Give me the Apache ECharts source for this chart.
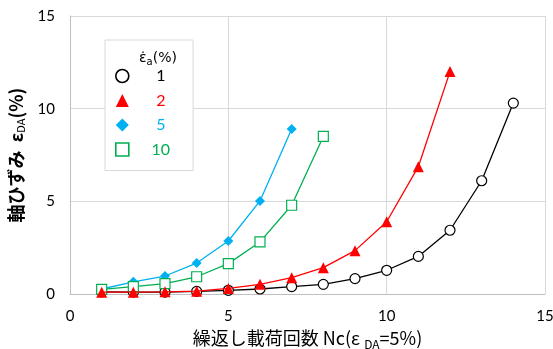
<!DOCTYPE html>
<html>
<head>
<meta charset="utf-8">
<script src="https://cdn.jsdelivr.net/npm/echarts@6/dist/echarts.min.js"></script>
<style>
  html, body { margin: 0; padding: 0; background: #fff; }
  #chart { width: 553px; height: 349px; }
</style>
</head>
<body>
<div id="chart"></div>
<script>
// Number of loading cycles (x) and axial strain ε_DA (%) for each strain rate
const cycles1 = [1, 2, 3, 4, 5, 6, 7, 8, 9, 10, 11, 12, 13, 14];
const strain1 = [0.12, 0.1, 0.1, 0.14, 0.2, 0.27, 0.4, 0.52, 0.83, 1.28, 2.03, 3.44, 6.11, 10.3];

const cycles2 = [1, 2, 3, 4, 5, 6, 7, 8, 9, 10, 11, 12];
const strain2 = [0.1, 0.1, 0.12, 0.15, 0.3, 0.52, 0.88, 1.42, 2.34, 3.9, 6.87, 12.0];

const cycles5 = [1, 2, 3, 4, 5, 6, 7];
const strain5 = [0.27, 0.66, 0.97, 1.67, 2.86, 5.02, 8.9];

const cycles10 = [1, 2, 3, 4, 5, 6, 7, 8];
const strain10 = [0.25, 0.4, 0.56, 0.93, 1.64, 2.81, 4.79, 8.5];

const rateLabels = ['1', '2', '5', '10'];
const xTicks = [0, 5, 10, 15];
const yTicks = [0, 5, 10, 15];

const pairs = (xs, ys) => xs.map((x, i) => [x, ys[i]]);

const tickFont = 'Lato, "Open Sans", sans-serif';
const jpFont = '"Noto Sans CJK JP", sans-serif';

const chart = echarts.init(document.getElementById('chart'), null, { renderer: 'canvas' });

const legendItem = (name, icon, fill, stroke, textColor) => ({
  name: name,
  icon: icon,
  itemStyle: { color: fill, borderColor: stroke, borderWidth: fill === '#ffffff' ? 1.6 : 0 },
  textStyle: { color: textColor }
});

chart.setOption({
  animation: false,
  grid: { left: 70, right: 8, top: 16, bottom: 55, containLabel: false, outerBoundsMode: 'none' },
  title: {
    text: '{e|ε̇}{s|a}{e|(%)}',
    left: 134,
    top: 44,
    z: 20,
    textStyle: {
      fontWeight: 'normal',
      rich: {
        e: { fontFamily: '"DejaVu Sans", sans-serif', fontSize: 14, fontWeight: 'normal', color: '#000' },
        s: { fontFamily: '"DejaVu Sans", sans-serif', fontSize: 10, fontWeight: 'normal', color: '#000', verticalAlign: 'bottom', padding: [8, 0, 0, 0] }
      }
    }
  },
  legend: {
    orient: 'vertical',
    left: 105,
    top: 40,
    padding: [28, 23, 13, 10],
    itemWidth: 13,
    itemHeight: 13,
    itemGap: 8.5,
    backgroundColor: '#ffffff',
    borderColor: '#d9d9d9',
    borderWidth: 1,
    selectedMode: false,
    formatter: name => '{c|' + name + '}',
    textStyle: {
      fontFamily: tickFont,
      fontSize: 16,
      rich: { c: { width: 54, align: 'center', fontFamily: tickFont, fontSize: 16 } }
    },
    data: [
      legendItem(rateLabels[0], 'circle', '#ffffff', '#000000', '#000000'),
      legendItem(rateLabels[1], 'triangle', '#ff0000', '#ff0000', '#ff0000'),
      legendItem(rateLabels[2], 'diamond', '#00b0f0', '#00b0f0', '#00b0f0'),
      legendItem(rateLabels[3], 'rect', '#ffffff', '#00b050', '#00b050')
    ]
  },
  xAxis: {
    type: 'value',
    min: xTicks[0],
    max: xTicks[xTicks.length - 1],
    interval: xTicks[1] - xTicks[0],
    name: '{j|繰返し載荷回数 Nc(}{g|ε }{s|DA}{j|=5%)}',
    nameLocation: 'middle',
    nameGap: 33,
    nameTextStyle: {
      rich: {
        j: { fontFamily: jpFont, fontSize: 18, color: '#000' },
        g: { fontFamily: jpFont, fontSize: 18, color: '#000' },
        s: { fontFamily: jpFont, fontSize: 12, color: '#000', verticalAlign: 'bottom', padding: [11, 0, 0, 0] }
      }
    },
    axisLine: { show: true, lineStyle: { color: '#bfbfbf', width: 1 } },
    axisTick: { show: false },
    axisLabel: { margin: 15, fontFamily: tickFont, fontSize: 15, color: '#000' },
    splitLine: { show: true, lineStyle: { color: '#d9d9d9', width: 1 } }
  },
  yAxis: {
    type: 'value',
    min: yTicks[0],
    max: yTicks[yTicks.length - 1],
    interval: yTicks[1] - yTicks[0],
    name: '{j|軸ひずみ  ε}{s|DA}{j|(%)}',
    nameLocation: 'middle',
    nameRotate: 90,
    nameGap: 42,
    nameTextStyle: {
      rich: {
        j: { fontFamily: jpFont, fontSize: 18, fontWeight: 'bold', color: '#000' },
        s: { fontFamily: jpFont, fontSize: 11, color: '#000', verticalAlign: 'bottom', padding: [10, 0, 0, 0] }
      }
    },
    axisLine: { show: true, lineStyle: { color: '#bfbfbf', width: 1 } },
    axisTick: { show: false },
    axisLabel: { margin: 15, fontFamily: tickFont, fontSize: 15, color: '#000' },
    splitLine: { show: true, lineStyle: { color: '#d9d9d9', width: 1 } }
  },
  series: [
    {
      name: rateLabels[0], type: 'line', z: 2,
      data: pairs(cycles1, strain1),
      symbol: 'circle', symbolSize: 10,
      lineStyle: { color: '#000000', width: 1.3 },
      itemStyle: { color: '#ffffff', borderColor: '#000000', borderWidth: 1.2 }
    },
    {
      name: rateLabels[1], type: 'line', z: 5,
      data: pairs(cycles2, strain2),
      symbol: 'triangle', symbolSize: 11,
      lineStyle: { color: '#ff0000', width: 1.3 },
      itemStyle: { color: '#ff0000', borderColor: '#ff0000', borderWidth: 0 }
    },
    {
      name: rateLabels[2], type: 'line', z: 3,
      data: pairs(cycles5, strain5),
      symbol: 'diamond', symbolSize: 10,
      lineStyle: { color: '#00b0f0', width: 1.3 },
      itemStyle: { color: '#00b0f0', borderColor: '#00b0f0', borderWidth: 0 }
    },
    {
      name: rateLabels[3], type: 'line', z: 4,
      data: pairs(cycles10, strain10),
      symbol: 'rect', symbolSize: 10,
      lineStyle: { color: '#00b050', width: 1.3 },
      itemStyle: { color: '#ffffff', borderColor: '#00b050', borderWidth: 1.2 }
    }
  ]
});
</script>
</body>
</html>
